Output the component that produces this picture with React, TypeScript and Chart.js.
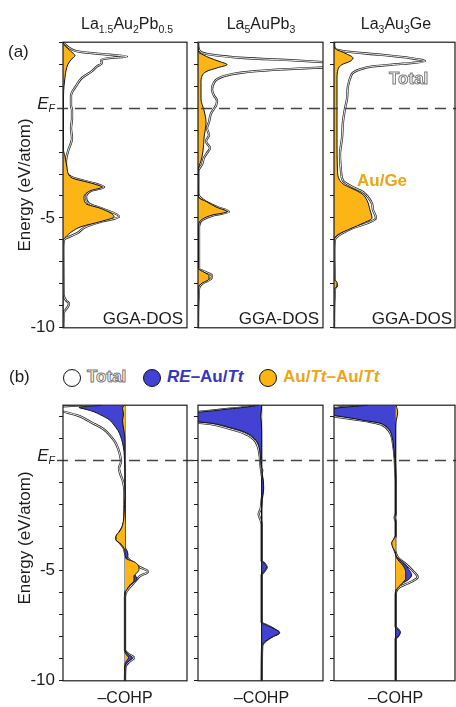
import React, { useEffect, useRef } from 'react';
import { Chart, registerables } from 'chart.js';

Chart.register(...registerables);

type Pt = [number, number]; // [energy (eV), value]

// ---------- titles / ticks ----------
const compounds = [
  ['La', '1.5', 'Au', '2', 'Pb', '0.5'],
  ['La', '5', 'AuPb', '3', '', ''],
  ['La', '3', 'Au', '3', 'Ge', ''],
];
const energyTicksLabelled = [-5, -10];

// ---------- (a) GGA-DOS ----------
const dosTotal_A: Pt[] = [[3.0,0],[2.87,0.27],[2.7,0.77],[2.57,1.6],[2.43,4.6],[2.35,6.4],[2.28,4.6],[2.17,3.8],[2.05,3.9],[1.9,3.4],[1.68,2.9],[1.38,1.9],[1.0,1.3],[0.57,0.8],[0.12,0.8],[-0.1,0.9],[-0.48,0.9],[-0.92,0.8],[-1.37,0.9],[-1.96,0.5],[-2.4,0.3],[-2.78,0.3],[-3.15,0.9],[-3.45,3.3],[-3.6,4.1],[-3.75,2.9],[-4.05,2.3],[-4.35,2.6],[-4.57,3.9],[-4.94,5.6],[-5.16,3.9],[-5.4,2.3],[-5.7,1.4],[-6.0,0.1],[-6.3,0.03],[-8.5,0.05],[-8.75,0.3],[-8.9,0.6],[-9.1,0.4],[-9.3,0.1],[-10,0.03]];
const dosAuPb_A: Pt[] = [[3.0,0],[2.9,0.1],[2.7,0.5],[2.5,1.0],[2.4,1.2],[2.2,0.8],[2.0,0.5],[1.7,0.3],[1.4,0.2],[1.0,0.1],[0.5,0.05],[-1.9,0.05],[-2.2,0.2],[-2.7,0.4],[-3.15,0.8],[-3.45,3.1],[-3.6,3.9],[-3.75,2.8],[-4.05,2.1],[-4.35,2.3],[-4.57,3.8],[-4.94,5.1],[-5.16,3.8],[-5.4,1.8],[-5.62,0.9],[-5.85,0.3],[-6.03,0],[-10,0]];

const dosTotal_B: Pt[] = [[3.0,0],[2.75,0.05],[2.55,0.3],[2.43,1.3],[2.28,4.6],[2.17,9.6],[2.08,13],[1.97,16],[1.88,14],[1.8,10],[1.74,7.5],[1.61,4.3],[1.46,2.6],[1.31,1.9],[1.16,1.6],[0.85,1.4],[0.57,1.6],[0.34,1.9],[0.12,1.8],[-0.03,1.6],[-0.25,1.3],[-0.63,1.1],[-0.92,0.9],[-1.22,1.1],[-1.52,0.8],[-1.82,1.2],[-2.04,0.9],[-2.26,0.6],[-2.56,0.4],[-2.86,0.03],[-3.9,0.03],[-4.2,0.6],[-4.5,1.9],[-4.72,3.1],[-4.87,1.6],[-5.1,0.4],[-5.4,0.1],[-7.3,0.1],[-7.47,0.8],[-7.62,1.4],[-7.77,1.3],[-8.0,0.4],[-8.21,0.1],[-10,0]];
const dosAuPb_B: Pt[] = [[3.0,0],[2.55,0.05],[2.43,0.5],[2.28,1.2],[2.13,2.1],[1.98,2.9],[1.83,1.9],[1.68,0.9],[1.46,0.4],[1.16,0.3],[0.42,0.3],[-0.1,0.6],[-0.63,0.8],[-1.37,0.6],[-1.96,0.5],[-2.4,0.3],[-2.78,0.03],[-4.05,0.05],[-4.27,0.9],[-4.5,1.8],[-4.72,2.9],[-4.87,1.4],[-5.1,0.3],[-5.4,0.05],[-7.3,0.05],[-7.47,0.6],[-7.62,1.1],[-7.77,1.1],[-8.0,0.3],[-8.21,0.03],[-10,0]];

const dosTotal_C: Pt[] = [[3.0,0],[2.72,0.05],[2.57,1.3],[2.43,4.6],[2.28,7.6],[2.13,9.1],[2.02,6.9],[1.9,3.9],[1.76,2.6],[1.61,1.9],[1.46,1.7],[1.01,1.4],[0.42,1.3],[-0.03,1.1],[-0.62,0.9],[-1.37,0.8],[-2.11,0.6],[-2.86,0.7],[-3.3,0.9],[-3.6,1.9],[-3.82,2.9],[-4.05,3.4],[-4.35,3.8],[-4.64,3.9],[-5.0,4.2],[-5.24,3.3],[-5.46,1.9],[-5.76,0.6],[-5.98,0.1],[-6.43,0.03],[-7.9,0.1],[-8.07,0.3],[-8.21,0.1],[-10,0]];
const dosAuGe_C: Pt[] = [[3.0,0],[2.72,0.1],[2.5,1.1],[2.28,1.9],[2.13,1.6],[1.98,0.8],[1.76,0.4],[1.31,0.3],[0.12,0.3],[-1.37,0.3],[-2.86,0.35],[-3.45,0.9],[-3.68,1.9],[-3.9,2.8],[-4.2,3.3],[-4.64,3.6],[-5.0,3.8],[-5.24,2.9],[-5.46,1.8],[-5.76,0.4],[-5.98,0],[-7.8,0],[-7.92,0.3],[-8.1,0.3],[-8.25,0],[-10,0]];

// ---------- (b) -COHP ----------
const cohpTotal_A: Pt[] = [[2.5,-4.2],[2.45,-6.2],[2.38,-7.2],[2.3,-7.0],[2.18,-5.9],[2.03,-4.7],[1.88,-4.0],[1.73,-3.4],[1.43,-2.2],[1.13,-1.5],[0.84,-1.0],[0.54,-0.7],[0.24,-0.5],[-0.06,-0.4],[-0.36,-0.6],[-0.58,-0.5],[-0.96,-0.2],[-1.4,-0.05],[-2.0,-0.05],[-2.6,-0.05],[-3.0,-0.2],[-3.3,-0.6],[-3.55,-0.9],[-3.75,-0.5],[-4.0,-0.1],[-4.2,0],[-4.45,0.3],[-4.65,0.8],[-4.85,1.5],[-5.05,2.3],[-5.25,1.5],[-5.5,1.0],[-5.75,0.5],[-6.0,0.1],[-6.2,0],[-8.6,0],[-8.8,0.4],[-8.95,0.9],[-9.15,0.4],[-9.35,0.05],[-10,0]];
const cohpREAu_A: Pt[] = [[2.5,-2.3],[2.4,-4.6],[2.3,-3.8],[2.2,-3.1],[2.05,-2.4],[1.85,-1.6],[1.6,-1.1],[1.35,-0.7],[1.1,-0.45],[0.8,-0.25],[0.4,-0.1],[0,-0.05],[-0.5,0],[-3.9,0],[-4.1,0.2],[-4.3,0.3],[-4.5,0.15],[-4.8,0.3],[-5.0,0.7],[-5.2,1.0],[-5.4,1.2],[-5.55,0.8],[-5.7,0.3],[-6.0,0],[-8.6,0],[-8.8,0.35],[-8.95,0.7],[-9.15,0.3],[-9.35,0],[-10,0]];
const cohpAuAu_A: Pt[] = [[2.5,-0.1],[2.35,-0.25],[2.1,-0.15],[1.8,-0.25],[1.4,-0.12],[1.1,-0.03],[0.8,0],[-1.6,0],[-2.0,-0.05],[-2.6,-0.12],[-2.95,-0.25],[-3.2,-0.5],[-3.45,-0.9],[-3.6,-0.9],[-3.8,-0.4],[-4.0,-0.1],[-4.2,0],[-4.45,0.1],[-4.6,0.9],[-4.75,1.3],[-4.95,1.4],[-5.1,1.2],[-5.25,0.9],[-5.45,0.9],[-5.65,0.5],[-5.85,0.2],[-6.0,0],[-8.7,0],[-8.85,0.2],[-8.95,0.35],[-9.1,0.15],[-9.25,0],[-10,0]];

const cohpTotal_B: Pt[] = [[2.5,-0.3],[2.4,-1.9],[2.33,-3.4],[2.25,-5.0],[2.18,-6.6],[2.0,-8.5],[1.85,-8.0],[1.72,-6.6],[1.65,-5.2],[1.47,-3.5],[1.25,-1.9],[0.95,-0.8],[0.65,-0.4],[0.2,-0.2],[-0.3,-0.1],[-0.8,0.05],[-1.3,0.1],[-1.8,0],[-2.2,-0.1],[-2.45,-0.3],[-2.6,-0.2],[-2.9,0],[-4.55,0],[-4.7,0.3],[-4.85,0.5],[-5.0,0.3],[-5.2,0],[-7.35,0],[-7.5,0.6],[-7.65,1.2],[-7.82,1.7],[-8.0,1.0],[-8.2,0.35],[-8.4,0.05],[-10,0]];
const cohpREAu_B: Pt[] = [[2.5,-0.3],[2.4,-1.8],[2.33,-3.3],[2.25,-4.8],[2.18,-6.3],[2.05,-8.0],[1.9,-8.0],[1.75,-6.5],[1.68,-5.0],[1.5,-3.3],[1.28,-1.7],[0.98,-0.7],[0.69,-0.3],[0.24,-0.15],[-0.06,-0.1],[-0.36,-0.05],[-0.6,0],[-0.9,0.15],[-1.3,0.2],[-1.6,0.1],[-2.0,0],[-4.55,0],[-4.7,0.3],[-4.85,0.5],[-5.0,0.3],[-5.2,0],[-7.35,0],[-7.5,0.6],[-7.65,1.3],[-7.82,1.8],[-8.0,1.1],[-8.2,0.4],[-8.4,0.05],[-10,0]];
const cohpAuAu_B: Pt[] = [[2.5,0],[2.2,-0.05],[2.0,-0.12],[1.8,-0.05],[1.0,0],[-0.3,0],[-0.45,0.12],[-0.6,0.05],[-1.0,0],[-10,0]];

const cohpTotal_C: Pt[] = [[2.5,-2.9],[2.45,-4.2],[2.36,-6.2],[2.2,-7.4],[2.03,-6.9],[1.95,-5.5],[1.84,-3.8],[1.76,-2.7],[1.65,-1.6],[1.5,-1.0],[1.2,-0.5],[0.7,-0.25],[0.1,-0.1],[-0.4,-0.05],[-1.0,0],[-2.4,0],[-2.6,-0.1],[-2.8,0],[-3.4,0],[-3.6,-0.15],[-3.75,-0.3],[-3.95,-0.2],[-4.2,0],[-4.45,0.3],[-4.7,1.0],[-4.95,1.6],[-5.15,2.0],[-5.3,2.2],[-5.45,1.8],[-5.6,1.1],[-5.75,0.4],[-5.9,0.1],[-6.1,0],[-7.55,0],[-7.7,0.3],[-7.8,0.4],[-7.95,0.25],[-8.1,0],[-10,0]];
const cohpREAu_C: Pt[] = [[2.5,-2.8],[2.45,-4.1],[2.36,-6.1],[2.25,-7.2],[2.1,-7.0],[2.03,-6.1],[1.91,-4.4],[1.8,-3.1],[1.7,-1.7],[1.58,-1.1],[1.43,-0.7],[1.13,-0.4],[0.69,-0.23],[0.09,-0.1],[-0.36,-0.05],[-0.8,0],[-4.3,0],[-4.5,0.4],[-4.7,0.9],[-4.95,1.3],[-5.2,1.6],[-5.4,1.3],[-5.6,0.6],[-5.8,0.1],[-6.0,0],[-7.55,0],[-7.7,0.3],[-7.8,0.45],[-7.95,0.3],[-8.1,0],[-10,0]];
const cohpAuAu_C: Pt[] = [[2.5,0.02],[2.4,0.1],[2.2,0.2],[2.0,0.15],[1.8,0.05],[1.5,0],[-2.4,0],[-2.6,-0.08],[-2.8,0],[-3.4,0],[-3.55,-0.15],[-3.75,-0.4],[-3.95,-0.3],[-4.15,-0.05],[-4.3,0],[-4.5,0.2],[-4.7,0.6],[-4.9,0.9],[-5.1,1.0],[-5.35,1.0],[-5.6,0.6],[-5.85,0.1],[-6.0,0],[-10,0]];

// ---------- style ----------
const FONT = '"Liberation Sans", Arial, Helvetica, sans-serif';
const ORANGE = '#FDB515';
const BLUE = '#4343D3';
const INK = '#1c1c1c';

type Part = { data: Pt[]; color: string };
type Spec = {
  left: number; top: number; width: number; height: number;
  plotL: number; plotR: number; plotT: number; plotB: number;
  xMin: number; xMax: number; yMin: number; yMax: number;
  total: Pt[]; parts: Part[]; labels: boolean; zero: boolean; dashStart: number;
};

const toXY = (pts: Pt[]) => pts.map(([e, v]) => ({ x: v, y: e }));

function Panel({ spec }: { spec: Spec }) {
  const ref = useRef<HTMLCanvasElement | null>(null);
  useEffect(() => {
    if (!ref.current) return;
    const datasets: any[] = [
      { data: toXY(spec.total), borderColor: '#222', borderWidth: 2.3, fill: false, order: 10 },
      { data: toXY(spec.total), borderColor: '#fff', borderWidth: 0.9, fill: false, order: 9 },
    ];
    spec.parts.forEach((p, i) => {
      datasets.push({ data: toXY(p.data), borderColor: '#111', borderWidth: 1, backgroundColor: p.color, fill: 'origin', order: 8 - i });
    });
    const decor = {
      id: 'decor',
      beforeDatasetsDraw(chart: any) {
        if (!spec.zero) return;
        const { ctx, chartArea: a, scales } = chart;
        const x0 = scales.x.getPixelForValue(0);
        ctx.save();
        ctx.strokeStyle = '#333';
        ctx.lineWidth = 1;
        ctx.beginPath();
        ctx.moveTo(x0, a.top);
        ctx.lineTo(x0, a.bottom);
        ctx.stroke();
        ctx.restore();
      },
      afterDatasetsDraw(chart: any) {
        const { ctx, chartArea: a, scales } = chart;
        ctx.save();
        const y0 = Math.round(scales.y.getPixelForValue(0)) + 0.5;
        ctx.strokeStyle = '#444';
        ctx.lineWidth = 1.3;
        ctx.setLineDash([11, 7]);
        ctx.lineDashOffset = spec.left + spec.dashStart - 57;
        ctx.beginPath();
        ctx.moveTo(spec.dashStart, y0);
        ctx.lineTo(spec.width, y0);
        ctx.stroke();
        ctx.setLineDash([]);
        ctx.strokeStyle = INK;
        ctx.lineWidth = 1.2;
        ctx.strokeRect(a.left, a.top, a.right - a.left, a.bottom - a.top);
        ctx.restore();
      },
    };
    const chart = new Chart(ref.current, {
      type: 'line',
      data: { datasets },
      options: {
        indexAxis: 'y',
        animation: false,
        responsive: false,
        maintainAspectRatio: false,
        events: [],
        layout: {
          padding: {
            left: 0,
            right: spec.left + spec.width - spec.plotR,
            top: spec.plotT - spec.top,
            bottom: spec.top + spec.height - spec.plotB,
          },
        },
        plugins: { legend: { display: false }, tooltip: { enabled: false } },
        elements: { point: { radius: 0 }, line: { cubicInterpolationMode: 'monotone' } },
        scales: {
          x: { type: 'linear', display: false, min: spec.xMin, max: spec.xMax, bounds: 'data' },
          y: {
            type: 'linear',
            min: spec.yMin,
            max: spec.yMax,
            bounds: 'data',
            afterFit: (s: any) => { s.width = spec.plotL - spec.left; },
            ticks: {
              stepSize: 1,
              maxTicksLimit: 100,
              includeBounds: false,
              autoSkip: false,
              padding: 4,
              color: INK,
              font: { family: FONT, size: 17 },
              callback: (v: any) => (spec.labels && energyTicksLabelled.includes(Number(v)) ? String(v) : ''),
            },
            grid: { drawOnChartArea: false, drawTicks: true, tickLength: 4, color: INK, lineWidth: 1 },
            border: { display: false },
          },
        },
      } as any,
      plugins: [decor],
    });
    return () => chart.destroy();
  }, [spec]);
  return (
    <canvas
      ref={ref}
      width={spec.width}
      height={spec.height}
      style={{ position: 'absolute', left: spec.left, top: spec.top, width: spec.width, height: spec.height }}
    />
  );
}

const cols = [
  { left: 0, width: 192, plotL: 63, plotR: 187, c0: 125, dashStart: 57 },
  { left: 192, width: 136, plotL: 198, plotR: 323, c0: 261.7, dashStart: 0 },
  { left: 328, width: 128, plotL: 334, plotR: 455, c0: 395.7, dashStart: 0 },
];
const dosSets: [Pt[], Pt[]][] = [[dosTotal_A, dosAuPb_A], [dosTotal_B, dosAuPb_B], [dosTotal_C, dosAuGe_C]];
const cohpSets: [Pt[], Pt[], Pt[]][] = [[cohpTotal_A, cohpREAu_A, cohpAuAu_A], [cohpTotal_B, cohpREAu_B, cohpAuAu_B], [cohpTotal_C, cohpREAu_C, cohpAuAu_C]];

const topSpecs: Spec[] = cols.map((c, i) => ({
  left: c.left, top: 28, width: c.width, height: 314,
  plotL: c.plotL, plotR: c.plotR, plotT: 40, plotB: 330,
  xMin: 0, xMax: (c.plotR - c.plotL) / 10, yMin: -10, yMax: 3,
  total: dosSets[i][0], parts: [{ data: dosSets[i][1], color: ORANGE }],
  labels: i === 0, zero: false, dashStart: c.dashStart,
}));
const botSpecs: Spec[] = cols.map((c, i) => ({
  left: c.left, top: 391, width: c.width, height: 304,
  plotL: c.plotL, plotR: c.plotR, plotT: 403, plotB: 683,
  xMin: -(c.c0 - c.plotL) / 10, xMax: (c.plotR - c.c0) / 10, yMin: -10, yMax: 2.5,
  total: cohpSets[i][0], parts: [{ data: cohpSets[i][1], color: BLUE }, { data: cohpSets[i][2], color: ORANGE }],
  labels: i === 0, zero: true, dashStart: c.dashStart,
}));

const T = (s: React.CSSProperties): React.CSSProperties => ({
  position: 'absolute', whiteSpace: 'nowrap', fontFamily: FONT, color: INK, lineHeight: '20px', fontSize: 17, ...s,
});
const subS: React.CSSProperties = { fontSize: '10.5px', verticalAlign: '-4px', lineHeight: 0 };
const outlined: React.CSSProperties = { color: '#fff', WebkitTextStroke: '1px #7a7a7a', fontWeight: 'bold' } as any;

function Title({ parts, cx }: { parts: string[]; cx: number }) {
  return (
    <div style={T({ left: cx - 70, width: 140, textAlign: 'center', top: 13.5, fontSize: 16 })}>
      {parts[0]}<sub style={subS}>{parts[1]}</sub>{parts[2]}
      {parts[3] ? <sub style={subS}>{parts[3]}</sub> : null}
      {parts[4]}
      {parts[5] ? <sub style={subS}>{parts[5]}</sub> : null}
    </div>
  );
}

function EF({ top }: { top: number }) {
  return (
    <div style={T({ left: 0, width: 55, textAlign: 'right', top, fontStyle: 'italic' })}>
      E<sub style={{ fontSize: '10.5px', verticalAlign: '-3px', lineHeight: 0 }}>F</sub>
    </div>
  );
}

const circle = (left: number, bg: string): React.CSSProperties => ({
  position: 'absolute', left, top: 368.5, width: 18, height: 18, borderRadius: '50%',
  border: '1.3px solid #111', background: bg, boxSizing: 'border-box',
});

export default function App() {
  return (
    <div style={{ position: 'absolute', left: 0, top: 0, width: 456, height: 707, background: '#fff', overflow: 'hidden' }}>
      {topSpecs.map((s, i) => <Panel key={'t' + i} spec={s} />)}
      {botSpecs.map((s, i) => <Panel key={'b' + i} spec={s} />)}

      {compounds.map((p, i) => <Title key={i} parts={p} cx={[127, 261, 396][i]} />)}

      <div style={T({ left: 8, top: 42 })}>(a)</div>
      <div style={T({ left: 9, top: 366.5 })}>(b)</div>

      <EF top={94} />
      <EF top={445.5} />

      <div style={T({ left: 25, top: 185, transform: 'translate(-50%, -50%) rotate(-90deg)' })}>Energy (eV/atom)</div>
      <div style={T({ left: 25, top: 538, transform: 'translate(-50%, -50%) rotate(-90deg)' })}>Energy (eV/atom)</div>

      {[183, 319, 452].map((r, i) => (
        <div key={'g' + i} style={T({ left: r - 100, width: 100, textAlign: 'right', top: 309 })}>GGA-DOS</div>
      ))}
      <div style={T({ left: 389, top: 69, ...outlined })}>Total</div>
      <div style={T({ left: 357, top: 171, fontWeight: 'bold', color: '#EBA516' })}>Au/Ge</div>

      {[125, 261.5, 395.5].map((c, i) => (
        <div key={'c' + i} style={T({ left: c - 40, width: 80, textAlign: 'center', top: 687.5, fontSize: 16 })}>–COHP</div>
      ))}

      <div style={circle(63, '#fff')} />
      <div style={T({ left: 87, top: 367, ...outlined })}>Total</div>
      <div style={circle(143, BLUE)} />
      <div style={T({ left: 167, top: 367, fontWeight: 'bold', color: '#3535C0' })}>
        <i>RE</i>–Au/<i>Tt</i>
      </div>
      <div style={circle(259, ORANGE)} />
      <div style={T({ left: 283, top: 367, fontWeight: 'bold', color: '#EBA516' })}>
        Au/<i>Tt</i>–Au/<i>Tt</i>
      </div>
    </div>
  );
}
